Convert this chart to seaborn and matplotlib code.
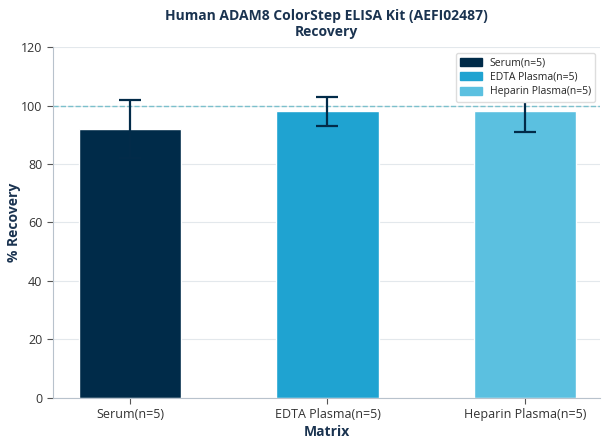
import pandas as pd
import numpy as np
import matplotlib.pyplot as plt
import seaborn as sns

categories = ["Serum(n=5)", "EDTA Plasma(n=5)", "Heparin Plasma(n=5)"]
recovery = [92, 98, 98]
errors = [10, 5, 7]
colors = ["#002b49", "#1fa3d1", "#5bc0e0"]

df = pd.DataFrame({"Matrix": categories, "Recovery": recovery})

sns.set_style("white")
plt.rcParams['font.family'] = ['Open Sans', 'DejaVu Sans']

fig = plt.figure(figsize=(6.08, 4.44), dpi=100)
ax = fig.add_axes([0.087, 0.104, 0.9, 0.79])

sns.barplot(data=df, x="Matrix", y="Recovery", hue="Matrix", palette=colors,
            saturation=1, width=0.52, dodge=False, legend=False, ax=ax, zorder=2)

# error bar colour matches the serum bar, so its lower half blends in
ax.errorbar(categories, recovery, yerr=errors, fmt="none", ecolor="#022b49",
            elinewidth=1.6, capsize=8, capthick=1.6, zorder=3)

ax.axhline(100, color="#7cc0cc", linestyle="--", linewidth=1, zorder=1)

ax.set_ylim(0, 120)
ax.set_xlim(-0.39, 2.38)
ax.set_yticks(range(0, 121, 20))
ax.yaxis.grid(True, color="#e3e8ec", linewidth=0.8, zorder=0)
ax.set_axisbelow(True)

text_color = "#1a3350"
ax.set_xlabel("Matrix", fontsize=10, fontweight="bold", color=text_color, labelpad=3)
ax.set_ylabel("% Recovery", fontsize=10, fontweight="bold", color=text_color)
ax.yaxis.set_label_coords(-0.058, 0.5)
ax.set_title("Human ADAM8 ColorStep ELISA Kit (AEFI02487)\nRecovery",
             fontsize=10, fontweight="bold", color=text_color, pad=8)
ax.tick_params(axis="both", labelsize=9, colors="#333333", length=4,
               color="#555555", left=True, bottom=True)
for lbl in ax.get_xticklabels() + ax.get_yticklabels():
    lbl.set_color("#333333")

sns.despine(ax=ax)
for sp in ["left", "bottom"]:
    ax.spines[sp].set_color("#b8c2cc")

handles = [plt.Rectangle((0, 0), 1, 1, color=c) for c in colors]
leg = ax.legend(handles, categories, loc="upper right", fontsize=7.5,
                frameon=True, framealpha=1, edgecolor="#dddddd",
                handlelength=2.1, handleheight=0.8, labelspacing=0.35,
                borderpad=0.4, borderaxespad=0, bbox_to_anchor=(0.991, 0.983))
leg.set_zorder(5)

fig.savefig("out.png", dpi=100)
